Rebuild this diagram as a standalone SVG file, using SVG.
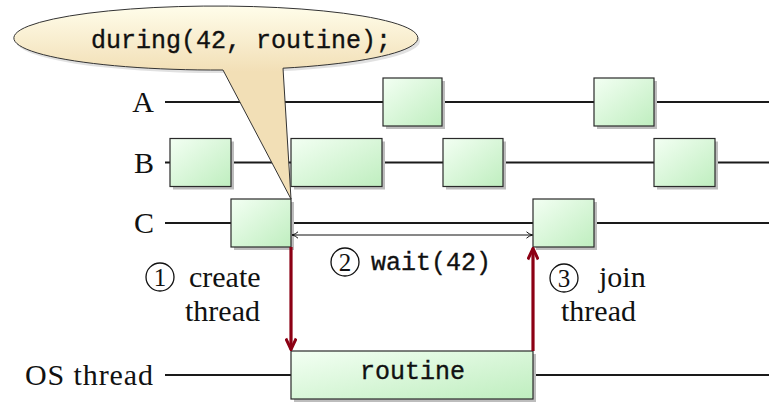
<svg xmlns="http://www.w3.org/2000/svg" width="769" height="403" viewBox="0 0 769 403">
  <style>
    .lane { stroke: #1a1a1a; stroke-width: 2; fill: none; }
    .box { fill: url(#boxFill); stroke: #2a2a2a; stroke-width: 1.2; }
    .shadow { fill: #bdbdbd; }
    .serif { font-family: "Liberation Serif", "DejaVu Serif", serif; font-size: 30px; fill: #111; }
    .digit { font-family: "Liberation Serif", "DejaVu Serif", serif; font-size: 25px; fill: #111; text-anchor: middle; }
    .mono { font-family: "Liberation Mono", "DejaVu Sans Mono", monospace; font-size: 25px; fill: #111; stroke: #111; stroke-width: 0.35; }
    .ring { fill: none; stroke: #111; stroke-width: 1.3; }
    .sync { stroke: #8c0014; stroke-width: 3.2; fill: none; }
    .span { stroke: #111; stroke-width: 1; fill: none; }
  </style>
  <defs>
    <linearGradient id="boxFill" x1="0" y1="0" x2="1" y2="1">
      <stop offset="0" stop-color="#f3fff3"/>
      <stop offset="1" stop-color="#bfeebf"/>
    </linearGradient>
    <linearGradient id="calloutFill" gradientUnits="userSpaceOnUse" x1="0" y1="6" x2="0" y2="72">
      <stop offset="0" stop-color="#fffdea"/>
      <stop offset="1" stop-color="#f2dfb6"/>
    </linearGradient>
    <marker id="redHead" viewBox="0 0 14 12" refX="12.5" refY="6" markerWidth="14" markerHeight="12" markerUnits="userSpaceOnUse" orient="auto">
      <path d="M1.5 0.8 L12.5 6 L1.5 11.2" fill="none" stroke="#8c0014" stroke-width="3"/>
    </marker>
    <marker id="thinHead" viewBox="0 0 8 8" refX="7.5" refY="4" markerWidth="8" markerHeight="8" markerUnits="userSpaceOnUse" orient="auto-start-reverse">
      <path d="M1.5 0.8 Q4 3.2 7.5 4 Q4 4.8 1.5 7.2" fill="none" stroke="#111" stroke-width="1"/>
    </marker>
  </defs>

  <!-- timelines -->
  <g id="lanes">
    <line class="lane" x1="165" y1="102" x2="769" y2="102"/>
    <line class="lane" x1="165" y1="162.5" x2="769" y2="162.5"/>
    <line class="lane" x1="165" y1="223" x2="769" y2="223"/>
    <line class="lane" x1="165" y1="375" x2="769" y2="375"/>
  </g>

  <!-- lane labels -->
  <g id="label-A"><text class="serif" x="154" y="112" text-anchor="end">A</text></g>
  <g id="label-B"><text class="serif" x="154" y="172.5" text-anchor="end">B</text></g>
  <g id="label-C"><text class="serif" x="154" y="233" text-anchor="end">C</text></g>
  <g id="label-os"><text class="serif" x="25" y="385" textLength="128">OS thread</text></g>

  <!-- coroutine slices on A -->
  <g id="a1"><rect class="shadow" x="386" y="81" width="59" height="48"/><rect class="box" x="383" y="78" width="59" height="48"/></g>
  <g id="a2"><rect class="shadow" x="597" y="81" width="60" height="48"/><rect class="box" x="594" y="78" width="60" height="48"/></g>

  <!-- coroutine slices on B -->
  <g id="b1"><rect class="shadow" x="173" y="141.5" width="61" height="48"/><rect class="box" x="170" y="138.5" width="61" height="48"/></g>
  <g id="b2"><rect class="shadow" x="294" y="141.5" width="91" height="48"/><rect class="box" x="291" y="138.5" width="91" height="48"/></g>
  <g id="b3"><rect class="shadow" x="446" y="141.5" width="60" height="48"/><rect class="box" x="443" y="138.5" width="60" height="48"/></g>
  <g id="b4"><rect class="shadow" x="657" y="141.5" width="61" height="48"/><rect class="box" x="654" y="138.5" width="61" height="48"/></g>

  <!-- coroutine slices on C -->
  <g id="c1"><rect class="shadow" x="234" y="202" width="60" height="48"/><rect class="box" x="231" y="199" width="60" height="48"/></g>
  <g id="c2"><rect class="shadow" x="536" y="202" width="61" height="48"/><rect class="box" x="533" y="199" width="61" height="48"/></g>

  <!-- OS thread running the routine -->
  <g id="routine">
    <rect class="shadow" x="294" y="354" width="242" height="48"/>
    <rect class="box" x="291" y="351" width="242" height="48"/>
    <text class="mono" x="360" y="379">routine</text>
  </g>

  <!-- speech bubble with the call -->
  <g id="callout">
    <ellipse cx="218" cy="41" rx="202" ry="32" fill="#9a9a9a" opacity="0.3"/>
    <path d="M283 68.2 L291 199 L223 70 A202 32 0 1 1 283 68.2 Z" fill="url(#calloutFill)" stroke="#333" stroke-width="1"/>
    <text class="mono" x="91" y="48">during(42, routine);</text>
  </g>

  <!-- connectors -->
  <g id="connectors">
    <line class="sync" x1="291" y1="247" x2="291" y2="349.5" marker-end="url(#redHead)"/>
    <line class="sync" x1="533" y1="351" x2="533" y2="248.5" marker-end="url(#redHead)"/>
    <line class="span" x1="292" y1="235" x2="532.5" y2="235" marker-start="url(#thinHead)" marker-end="url(#thinHead)"/>
  </g>

  <!-- step annotations -->
  <g id="step1">
    <circle class="ring" cx="160" cy="277" r="14"/>
    <text class="digit" x="160" y="286">1</text>
    <text class="serif" x="189" y="287">create</text>
    <text class="serif" x="185" y="321">thread</text>
  </g>
  <g id="step2">
    <circle class="ring" cx="345" cy="262" r="14"/>
    <text class="digit" x="345" y="271">2</text>
    <text class="mono" x="371" y="270">wait(42)</text>
  </g>
  <g id="step3">
    <circle class="ring" cx="564" cy="278" r="14"/>
    <text class="digit" x="564" y="287">3</text>
    <text class="serif" x="599" y="287">join</text>
    <text class="serif" x="561" y="321">thread</text>
  </g>
</svg>
